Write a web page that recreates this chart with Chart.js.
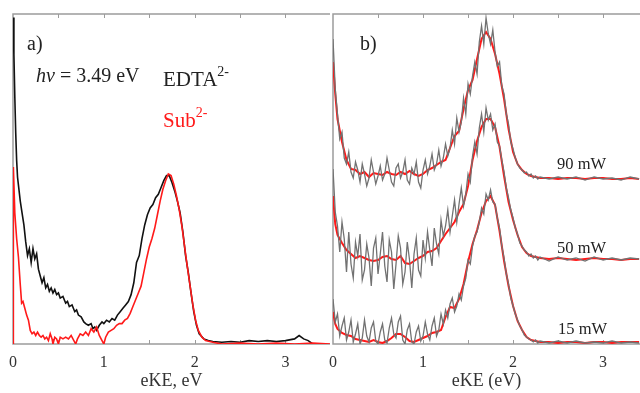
<!DOCTYPE html>
<html>
<head>
<meta charset="utf-8">
<script src="https://cdn.jsdelivr.net/npm/chart.js@4.4.1/dist/chart.umd.min.js"></script>
<style>
html, body {margin: 0; padding: 0; background: #fff; width: 640px; height: 393px; overflow: hidden}
#wrapA {position: absolute; left: 0; top: 0; width: 332px; height: 393px}
#wrapB {position: absolute; left: 320px; top: 0; width: 320px; height: 393px}
</style>
</head>
<body>
<div id="wrapB"><canvas id="chartB" width="320" height="393"></canvas></div>
<div id="wrapA"><canvas id="chartA" width="332" height="393"></canvas></div>
<script>
// panel a) EDTA2- vs Sub2- at hv = 3.49 eV
const xTicks = [0, 1, 2, 3]
const edtaX = [0,0.01,0.02,0.03,0.04,0.05,0.065,0.08,
    0.1,0.12,0.14,0.16,0.18,0.2,0.22,0.24,0.26,0.28,0.3,0.32,0.34,0.36,0.38,0.4,0.42,0.44,0.46,0.48,0.5,0.52,
    0.55,0.58,0.6,0.62,0.65,0.68,0.7,0.72,0.75,0.78,0.8,0.83,0.86,0.88,0.9,0.92,0.95,0.98,1,
    1.03,1.06,1.09,1.12,1.15,1.18,1.21,1.24,1.27,1.3,1.33,1.36,1.39,1.42,1.45,1.48,1.51,1.54,1.57,1.6,1.63,1.66,1.69,
    1.72,1.75,1.78,1.81,1.84,1.87,1.9,1.93,1.96,1.99,2.02,2.05,2.1,2.15,2.2,
    2.3,2.4,2.5,2.6,2.7,2.8,2.9,3,3.1,3.15,3.2,3.25,3.3]
const edta = [1.92,1.70,1.45,1.24,1.08,0.98,0.91,0.84,
    0.77,0.70,0.60,0.52,0.56,0.48,0.56,0.50,0.53,0.44,0.40,0.36,0.39,0.33,0.35,0.31,0.33,0.30,0.32,0.29,0.30,0.27,
    0.28,0.24,0.25,0.22,0.23,0.19,0.20,0.17,0.16,0.13,0.12,0.11,0.12,0.09,0.10,0.08,0.11,0.13,0.12,
    0.14,0.13,0.15,0.14,0.17,0.19,0.21,0.23,0.25,0.29,0.36,0.48,0.52,0.62,0.70,0.76,0.80,0.82,0.86,0.88,0.92,0.96,0.99,
    0.99,0.95,0.90,0.84,0.77,0.66,0.52,0.42,0.30,0.19,0.11,0.06,0.03,0.02,0.015,
    0.01,0.015,0.01,0.02,0.015,0.02,0.015,0.02,0.03,0.05,0.03,0.02,0.0]
const subX = [0,0.004,0.02,0.04,0.06,0.08,0.095,
    0.11,0.13,0.15,0.17,0.19,0.21,0.23,0.25,0.27,0.29,0.31,0.33,0.35,0.37,0.39,0.41,0.43,
    0.44,0.46,0.48,0.5,0.52,0.55,0.58,0.61,0.64,0.67,0.69,0.71,0.74,0.77,0.8,0.83,0.86,0.89,0.92,0.95,0.98,1,1.02,
    1.05,1.08,1.11,1.14,1.17,1.2,1.23,1.26,1.29,1.32,1.35,1.38,1.41,1.44,1.47,1.5,1.53,1.56,1.59,1.62,1.65,1.68,1.71,
    1.74,1.77,1.8,1.83,1.86,1.89,1.92,1.95,1.98,2.01,2.04,2.08,2.12,2.2,2.3,2.5,2.7,2.9,3.1,3.3,3.49]
const sub = [0,1.04,0.77,0.62,0.51,0.35,0.24,
    0.25,0.21,0.17,0.14,0.08,0.06,0.07,0.05,0.07,0.05,0.04,0.05,0.03,0.04,0.02,0.06,0.03,
    0.0,0.04,0.03,0.0,0.04,0.03,0.04,0.03,0.05,0.02,0.0,0.03,0.06,0.05,0.07,0.05,0.09,0.07,0.10,0.05,0.02,0.0,0.04,
    0.07,0.08,0.09,0.11,0.12,0.12,0.14,0.15,0.18,0.22,0.26,0.30,0.34,0.42,0.50,0.57,0.62,0.68,0.76,0.84,0.91,0.96,1.00,
    0.99,0.94,0.87,0.79,0.69,0.57,0.45,0.34,0.23,0.14,0.08,0.04,0.02,0.01,0.0,0.005,0.0,0.005,0.0,0.005,0]

// panel b) raw (grey) and smoothed (red) spectra at three laser powers, offset
const grayX = [0,0.025,0.05,0.075,0.1,0.125,0.15,0.175,0.2,0.225,
    0.25,0.275,0.3,0.325,0.35,0.375,0.4,0.425,0.45,0.475,
    0.5,0.525,0.55,0.575,0.6,0.625,0.65,0.675,0.7,0.725,
    0.75,0.775,0.8,0.825,0.85,0.875,0.9,0.925,0.95,0.975,
    1,1.025,1.05,1.075,1.1,1.125,1.15,1.175,1.2,1.225,
    1.25,1.275,1.3,1.325,1.35,1.375,1.4,1.425,1.45,1.475,
    1.5,1.525,1.55,1.575,1.6,1.625,1.65,1.675,1.7,1.725,
    1.75,1.775,1.8,1.825,1.85,1.875,1.9,1.925,1.95,1.975,
    2,2.025,2.05,2.075,2.1,2.125,2.15,2.175,2.2,2.225,
    2.25,2.275,2.3,
    2.4,2.5,2.6,2.7,2.8,2.9,3,3.1,3.2,3.3,3.4]
const gray90 = [3.05,2.55,2.30,2.05,2.12,1.86,1.80,1.92,1.72,1.66,
    1.82,1.74,1.62,1.80,1.70,1.58,1.66,1.84,1.72,1.60,
    1.68,1.78,1.64,1.70,1.86,1.74,1.62,1.58,1.76,1.80,
    1.66,1.72,1.84,1.64,1.60,1.76,1.70,1.82,1.62,1.56,
    1.74,1.84,1.70,1.78,1.90,1.74,1.80,1.94,1.78,1.86,
    2.00,1.88,1.96,2.14,2.00,2.26,2.12,2.22,2.46,2.30,
    2.60,2.50,2.68,2.82,2.70,3.02,3.18,3.00,3.26,3.10,
    3.00,3.14,2.92,2.78,2.82,2.58,2.50,2.30,2.20,2.02,
    1.95,1.86,1.80,1.76,1.74,1.71,1.72,1.68,1.70,1.66,
    1.68,1.65,1.67,
    1.65,1.67,1.65,1.67,1.64,1.67,1.65,1.66,1.64,1.67,1.65]
const gray50 = [1.75,1.32,1.18,0.92,1.22,1.05,0.72,1.12,0.80,0.66,
    1.02,0.88,1.10,0.64,0.74,1.00,0.86,0.58,0.96,1.06,
    0.70,0.90,1.12,0.78,0.62,1.04,0.92,0.55,0.80,1.08,
    0.96,0.60,0.72,1.02,0.84,0.56,0.90,1.06,0.74,0.68,
    1.04,0.86,1.12,0.94,0.78,1.16,1.00,0.90,1.24,1.08,
    1.18,1.34,1.12,1.28,1.44,1.22,1.40,1.56,1.38,1.50,
    1.70,1.62,1.88,2.02,1.90,2.16,2.30,2.12,2.36,2.24,
    2.30,2.14,2.20,2.02,1.98,1.84,1.72,1.56,1.46,1.34,
    1.26,1.16,1.10,1.01,0.98,0.94,0.92,0.88,0.90,0.86,
    0.88,0.84,0.87,
    0.83,0.87,0.84,0.86,0.83,0.87,0.84,0.86,0.84,0.86,0.85]
const gray15 = [0.45,0.22,0.30,0.08,0.18,0.26,0.04,0.12,0.24,0.02,
    0.10,0.20,0.00,0.06,0.24,0.08,0.02,0.16,0.22,0.03,
    0.00,0.12,0.20,0.04,0.01,0.16,0.26,0.10,0.06,0.22,
    0.28,0.04,0.00,0.14,0.20,0.02,0.00,0.12,0.18,0.03,
    0.08,0.22,0.10,0.04,0.18,0.26,0.08,0.14,0.30,0.20,
    0.34,0.26,0.40,0.46,0.32,0.38,0.50,0.44,0.58,0.66,
    0.84,0.80,0.98,1.08,1.12,1.22,1.36,1.30,1.50,1.44,
    1.54,1.42,1.40,1.26,1.16,0.98,0.86,0.70,0.60,0.46,
    0.38,0.30,0.24,0.18,0.14,0.09,0.07,0.05,0.04,0.02,
    0.04,0.01,0.03,
    0.01,0.03,0.01,0.03,0.01,0.02,0.01,0.03,0.01,0.02,0.01]
const redX = [0,0.025,0.05,0.1,0.15,0.2,0.25,0.3,0.35,0.4,
    0.45,0.5,0.55,0.6,0.65,0.7,0.75,0.8,0.85,0.9,
    0.95,1,1.05,1.1,1.15,1.2,1.25,1.3,1.35,1.4,
    1.45,1.5,1.55,1.6,1.65,1.7,1.75,1.8,1.85,1.9,
    1.95,2,2.05,2.1,2.15,2.2,2.25,2.3,2.4,
    2.5,2.6,2.7,2.8,2.9,3,3.1,3.2,3.3,3.4]
const red90 = [2.82,2.50,2.25,2.02,1.84,1.75,1.74,1.70,1.72,1.67,
    1.71,1.70,1.69,1.72,1.70,1.69,1.72,1.70,1.73,1.70,
    1.68,1.70,1.74,1.76,1.79,1.82,1.84,1.96,2.08,2.13,
    2.35,2.54,2.64,2.85,3.05,3.12,3.05,2.90,2.70,2.45,
    2.15,1.92,1.80,1.74,1.70,1.68,1.67,1.66,1.66,
    1.65,1.66,1.66,1.65,1.66,1.66,1.65,1.65,1.66,1.65]
const red50 = [1.48,1.20,1.09,1.01,0.94,0.90,0.86,0.88,0.86,0.84,
    0.83,0.84,0.87,0.88,0.85,0.84,0.88,0.81,0.80,0.83,
    0.86,0.88,0.92,0.93,0.96,1.03,1.10,1.16,1.22,1.32,
    1.40,1.58,1.84,2.03,2.17,2.25,2.25,2.17,1.97,1.68,
    1.42,1.24,1.09,0.97,0.91,0.88,0.87,0.86,0.85,
    0.86,0.85,0.84,0.85,0.86,0.85,0.85,0.84,0.85,0.85]
const red15 = [0.32,0.20,0.15,0.11,0.09,0.08,0.05,0.04,0.03,0.02,
    0.04,0.02,0.01,0.03,0.06,0.10,0.10,0.07,0.03,0.02,
    0.04,0.06,0.08,0.11,0.12,0.14,0.27,0.37,0.36,0.45,
    0.60,0.82,1.00,1.14,1.31,1.43,1.48,1.39,1.13,0.83,
    0.58,0.38,0.23,0.14,0.07,0.04,0.03,0.02,0.02,
    0.01,0.02,0.02,0.01,0.02,0.02,0.01,0.02,0.02,0.02]

const SERIF = '"Liberation Serif", "Times New Roman", serif'
const RED = '#ff1a1a'
const GRAY = '#727272'

const pts = (xs, ys) => xs.map((x, i) => ({x, y: ys[i]}))
const line = (xs, ys, color, width) => ({data: pts(xs, ys), borderColor: color, borderWidth: width, showLine: true, pointRadius: 0, fill: false})

// grey frame with inward minor ticks, plus the panel texts
const frame = {
    id: 'frame',
    beforeDatasetsDraw(chart) {
        const {ctx, chartArea: {left, right, top, bottom}, scales: {x}} = chart
        ctx.save()
        ctx.strokeStyle = '#9c9c9c'
        ctx.lineWidth = 1.5
        ctx.beginPath()
        ctx.moveTo(right, bottom); ctx.lineTo(left, bottom); ctx.lineTo(left, top); ctx.lineTo(right, top)
        ctx.stroke()
        ctx.lineWidth = 1
        ctx.beginPath()
        for (let v = 0.5; v < x.max; v += 0.5) {
            const px = Math.round(x.getPixelForValue(v)) + 0.5
            ctx.moveTo(px, top); ctx.lineTo(px, top + 4)
            ctx.moveTo(px, bottom); ctx.lineTo(px, bottom - 4)
        }
        ctx.stroke()
        ctx.restore()
    },
    afterDraw(chart, args, opts) {
        const {ctx} = chart
        ctx.save()
        ctx.textBaseline = 'alphabetic'
        ;(opts.labels || []).forEach(lab => {
            let cx = lab.x
            lab.runs.forEach(([text, font, dy = 0]) => {
                ctx.font = font + ' ' + SERIF
                ctx.fillStyle = lab.color || '#222'
                ctx.fillText(text, cx, lab.y + dy)
                cx += ctx.measureText(text).width
            })
        })
        ctx.restore()
    }
}

function makeChart(id, datasets, xMax, yMax, title, padRight, labels) {
    return new Chart(document.getElementById(id), {
        type: 'scatter',
        data: {datasets},
        options: {
            responsive: false,
            animation: false,
            devicePixelRatio: 1,
            layout: {padding: {left: 13, top: 14, right: padRight, bottom: 0}},
            elements: {line: {tension: 0}},
            plugins: {legend: {display: false}, tooltip: {enabled: false}, frame: {labels}},
            scales: {
                x: {
                    type: 'linear', min: 0, max: xMax,
                    grid: {display: false, drawTicks: false},
                    border: {display: false},
                    afterBuildTicks: s => { s.ticks = xTicks.map(v => ({value: v})) },
                    ticks: {padding: 9, maxRotation: 0, autoSkip: false, color: '#333', font: {family: SERIF, size: 16}},
                    title: {display: true, text: title, color: '#333', font: {family: SERIF, size: 18}, padding: {top: 0, bottom: 1}},
                    afterFit: s => { s.height = 49 }
                },
                y: {display: false, min: 0, max: yMax}
            }
        },
        plugins: [frame]
    })
}

makeChart('chartA', [
    line(subX, sub, RED, 1.6),
    line(edtaX, edta, '#111', 1.6)
], 3.49, 1.94, 'eKE, eV', 2, [
    {x: 27, y: 50, runs: [['a)', '20px']]},
    {x: 36, y: 82, runs: [['h\u03bd', 'italic 20px'], [' = 3.49 eV', '20px']]},
    {x: 163, y: 86, runs: [['EDTA', '21px'], ['2-', '14px', -10]]},
    {x: 163, y: 127, color: RED, runs: [['Sub', '21px'], ['2-', '14px', -10]]}
])

makeChart('chartB', [
    line(grayX, gray15, GRAY, 1.3),
    line(grayX, gray50, GRAY, 1.3),
    line(grayX, gray90, GRAY, 1.3),
    line(redX, red15, RED, 2),
    line(redX, red50, RED, 2),
    line(redX, red90, RED, 2)
], 3.41, 3.30, 'eKE (eV)', 0, [
    {x: 40, y: 50, runs: [['b)', '20px']]},
    {x: 237, y: 169, runs: [['90 mW', '16.5px']]},
    {x: 237, y: 253, runs: [['50 mW', '16.5px']]},
    {x: 238, y: 334, runs: [['15 mW', '16.5px']]}
])
</script>
</body>
</html>
